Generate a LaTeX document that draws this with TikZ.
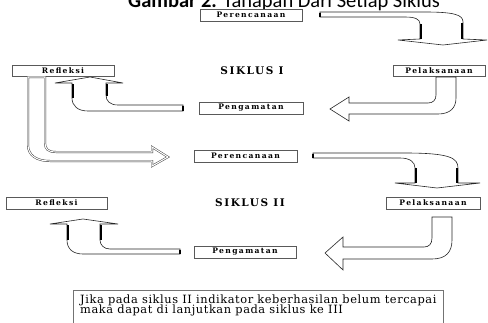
\documentclass[tikz,border=0pt]{standalone}
\usepackage{fontspec}
\newfontfamily\titlefont{Carlito}
\newfontfamily\boxfont[LetterSpace=18]{DejaVu Serif}
\newfontfamily\sikfont[LetterSpace=15]{DejaVu Serif}
\newfontfamily\bodyfont[LetterSpace=5]{DejaVu Serif}
\tikzset{
  box/.style={draw=black!65, line width=0.6pt, fill=white, inner sep=0pt,
    font=\boxfont\bfseries\fontsize{7.6}{8}\selectfont},
  blockarrow/.style={draw=black!85, line width=0.6pt, fill=white, line join=miter},
  dblarrow/.style={draw=black!80, line width=0.45pt, double=white, double distance=1.1pt, line join=miter},
  dark/.style={line width=1.8pt, black},
  siklus/.style={font=\sikfont\bfseries\fontsize{10.5}{10}\selectfont},
  notetext/.style={anchor=base west, inner sep=0pt, font=\bodyfont\fontsize{11.4}{10}\selectfont},
}
\begin{document}
\begin{tikzpicture}[x=1pt,y=-1pt]
\useasboundingbox (0,0) rectangle (488,322);
\clip (0,0) rectangle (488,322);
\fill[white] (0,0) rectangle (488,322);
% title (top cut off, as in the reference)
\node[anchor=base west, inner sep=0pt, font=\titlefont\fontsize{20.5}{20}\selectfont] (title) at (128,7.5) {\textbf{Gambar 2.} Tahapan Dari Setiap Siklus};
% boxes
\node[box, minimum width=102pt, minimum height=12pt] (per1) at (251,15) {Perencanaan};
\node[box, minimum width=102pt, minimum height=11pt] (ref1) at (63,70.5) {Refleksi};
\node[box, minimum width=92pt, minimum height=11pt] (pel1) at (439,70.5) {Pelaksanaan};
\node[box, minimum width=104pt, minimum height=12pt] (pen1) at (251,108) {Pengamatan};
\node[box, minimum width=103pt, minimum height=12pt] (per2) at (245.5,156) {Perencanaan};
\node[box, minimum width=101pt, minimum height=12pt] (ref2) at (56.5,203) {Refleksi};
\node[box, minimum width=94pt, minimum height=12pt] (pel2) at (433,203) {Pelaksanaan};
\node[box, minimum width=102pt, minimum height=12pt] (pen2) at (245,252) {Pengamatan};
\node[siklus] (s1) at (252,71) {SIKLUS I};
\node[siklus] (s2) at (250,203) {SIKLUS II};
% arrow A : per1 -> pel1
\draw[blockarrow] (320,12) -- (425,12) .. controls (455,12) and (463,15) .. (463,22) -- (463,39) -- (487,40) -- (443,45) -- (398,40) -- (420,39) -- (420,24) .. controls (420,19) and (415,17) .. (405,17) -- (320,17) -- cycle;
\draw[dark] (320,12.5) -- (320,16.5);
\draw[dark] (421,24) -- (421,39);
\draw[dark] (462,23) -- (462,39);
% arrow B : pel1 -> pen1
\draw[blockarrow] (436,77) -- (456,77) -- (456,98) .. controls (456,108) and (450,114) .. (438,114) -- (349,114) -- (349,121) -- (330,109) -- (349,97) -- (349,103) -- (428,103) .. controls (433,103) and (436,100) .. (436,95) -- cycle;
% arrow C : pen1 -> ref1
\draw[blockarrow] (183,105) -- (118,105) .. controls (110,105) and (106,101) .. (106,95) -- (106,83) -- (123,83) -- (90,77) -- (55,83) -- (72,83) -- (72,98) .. controls (72,106) and (78,111) .. (88,111) -- (183,111) -- cycle;
\draw[dark] (183,105.5) -- (183,110.5);
\draw[dark] (107,84) -- (107,96);
\draw[dark] (73,84) -- (73,98);
% arrow D : ref1 -> per2
\draw[dblarrow] (28,77) -- (45,77) -- (45,143) .. controls (45,149) and (48,152) .. (56,152) -- (152,152) -- (152,147) -- (168,157) -- (152,166) -- (152,161) -- (50,161) .. controls (36,161) and (28,155) .. (28,145) -- cycle;
% arrow E : per2 -> pel2
\draw[blockarrow] (313,153) -- (405,153) .. controls (450,153) and (458,158) .. (458,168) -- (458,183) -- (480,183) -- (437,188) -- (395,183) -- (415,183) -- (415,168) .. controls (415,162) and (410,158) .. (400,158) -- (313,158) -- cycle;
\draw[dark] (313,153.5) -- (313,157.5);
\draw[dark] (416,168) -- (416,183);
\draw[dark] (457,168) -- (457,183);
% arrow F : pel2 -> pen2
\draw[blockarrow] (432,217) -- (452,217) -- (452,240) .. controls (452,252) and (446,259) .. (432,259) -- (343,259) -- (343,270) -- (325,253) -- (343,237) -- (343,247) -- (424,247) .. controls (429,247) and (432,244) .. (432,238) -- cycle;
% arrow G : pen2 -> ref2
\draw[blockarrow] (180,249) -- (110,249) .. controls (104,249) and (100,245) .. (100,240) -- (100,224) -- (118,224) -- (83,219) -- (50,224) -- (67,224) -- (67,240) .. controls (67,249) and (73,254) .. (83,254) -- (180,254) -- cycle;
\draw[dark] (180,249.5) -- (180,253.5);
\draw[dark] (101,225) -- (101,240);
\draw[dark] (68,225) -- (68,240);
% note box
\draw[draw=black!55, line width=0.6pt] (73,340) |- (443,290) -- (443,340);
\node[notetext] (note1) at (80,303) {Jika pada siklus II indikator keberhasilan belum tercapai};
\node[notetext] (note2) at (80,313) {maka dapat di lanjutkan pada siklus ke III};
\end{tikzpicture}
\end{document}
